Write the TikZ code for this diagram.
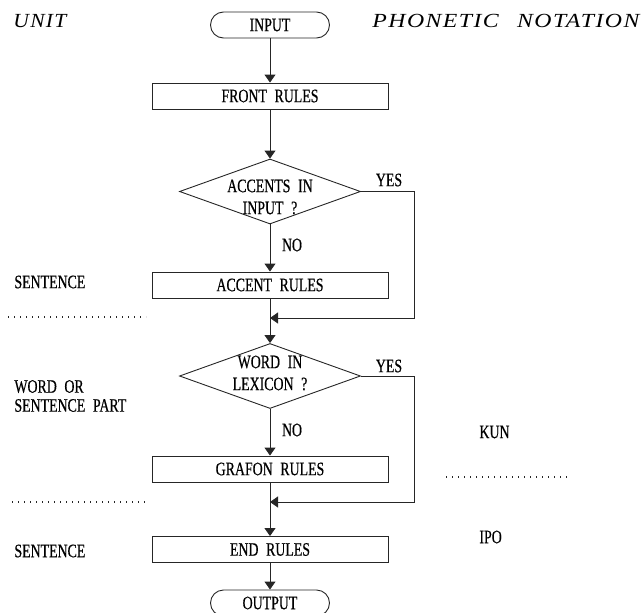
\documentclass[tikz,border=0pt]{standalone}
\usepackage{fontspec}
\setmainfont[FakeStretch=0.73,FakeBold=0.5,WordSpace=2.2]{Liberation Serif}
\newfontfamily\headfont[LetterSpace=6,WordSpace=2.5]{Liberation Serif}
\usetikzlibrary{shapes.geometric,arrows.meta}
\newcommand{\headtext}[2]{\resizebox{#1}{\height}{\fontsize{20}{24}\headfont\itshape #2}}
\tikzset{
  txt/.style={font=\fontsize{19}{24}\selectfont, text=black},
  rulebox/.style={txt, draw, minimum width=236pt, minimum height=26pt, inner sep=0pt},
  term/.style={txt, draw, rounded corners=13pt, minimum width=119pt, minimum height=26pt, inner sep=0pt},
  decide/.style={txt, draw, diamond, minimum width=181pt, minimum height=65pt, inner sep=0pt, align=center},
  lbl/.style={txt, anchor=west, inner sep=0pt},
  flow/.style={-{Triangle[width=11pt,length=8pt]}},
  sep/.style={line width=1.3pt, dash pattern=on 1.3pt off 4.7pt},
}
\begin{document}
\begin{tikzpicture}[x=1pt,y=-1pt,line width=0.9pt,draw=black!85]
\useasboundingbox (0,0) rectangle (643,613);

% column headings
\node[lbl] (unit) at (13,21) {\headtext{53pt}{UNIT}};
\node[lbl] (phon) at (372,21) {\headtext{267pt}{PHONETIC NOTATION}};

% main flow
\node[term] (input) at (270,25) {INPUT};
\node[rulebox] (front) at (270,96) {FRONT RULES};
\node[decide] (d1) at (270,191.5) {};
\node[txt, align=center] (d1t) at (270,197) {ACCENTS IN\\[-2pt]INPUT ?};
\node[rulebox] (accent) at (270,285) {ACCENT RULES};
\node[decide] (d2) at (270,376) {};
\node[txt, align=center] (d2t) at (270,373) {WORD IN\\[-2pt]LEXICON ?};
\node[rulebox] (grafon) at (270,469) {GRAFON RULES};
\node[rulebox] (endr) at (270,549.5) {END RULES};
\node[term] (output) at (270,603) {OUTPUT};

% branch labels
\node[txt] (yes1) at (389,180) {YES};
\node[txt] (no1) at (292,245) {NO};
\node[txt] (yes2) at (389,366) {YES};
\node[txt] (no2) at (292,430) {NO};

% bypass corners and merge points
\coordinate (r1) at (414,318);
\coordinate (j1) at (270,318);
\coordinate (r2) at (414,502);
\coordinate (j2) at (270,502);

\draw[flow] (input) -- (front);
\draw[flow] (front) -- (d1);
\draw[flow] (d1) -- (accent);
\draw[flow] (d1.east) -| (r1) -- (j1);
\draw[flow] (accent) -- (d2);
\draw[flow] (d2) -- (grafon);
\draw[flow] (d2.east) -| (r2) -- (j2);
\draw[flow] (grafon) -- (endr);
\draw[flow] (endr) -- (output);

% unit levels (left)
\node[lbl] (sent1) at (14,282) {SENTENCE};
\node[lbl, align=left] (wordpart) at (14,396) {WORD OR\\[-5pt]SENTENCE PART};
\node[lbl] (sent2) at (14,551) {SENTENCE};
\coordinate (ls1a) at (8,317);
\coordinate (ls1b) at (146,317);
\coordinate (ls2a) at (12,502);
\coordinate (ls2b) at (148,502);
\draw[sep] (ls1a) -- (ls1b);
\draw[sep] (ls2a) -- (ls2b);

% notation levels (right)
\node[lbl] (kun) at (479,432) {KUN};
\node[lbl] (ipo) at (479,537) {IPO};
\coordinate (rsa) at (446,477);
\coordinate (rsb) at (569,477);
\draw[sep] (rsa) -- (rsb);
\end{tikzpicture}
\end{document}
